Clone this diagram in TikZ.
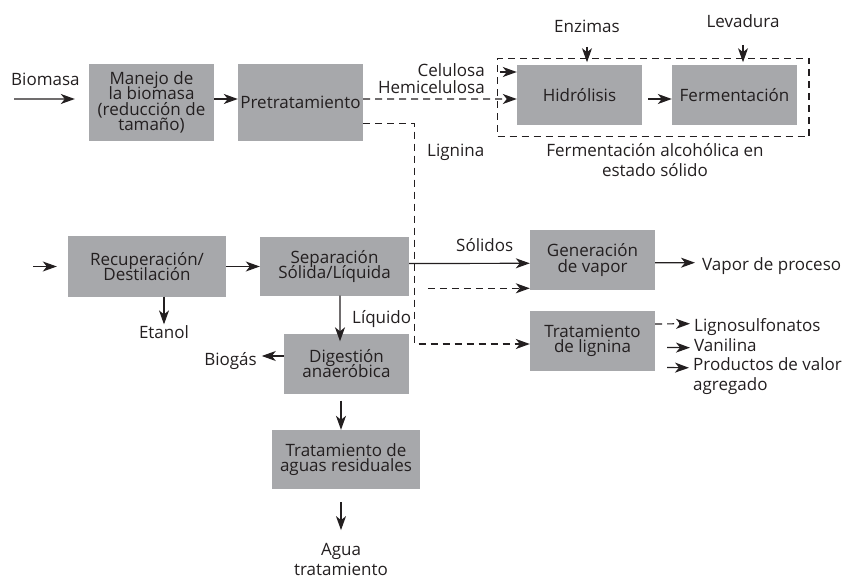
\documentclass[tikz,border=0pt]{standalone}
\usepackage{fontspec}
\setmainfont{Open Sans}
\usetikzlibrary{arrows.meta,positioning}
\definecolor{boxgray}{RGB}{167,168,171}
\definecolor{ink}{RGB}{35,31,32}
\newcommand{\procfont}{\fontsize{17bp}{15.3bp}\selectfont\lineskiplimit=-20bp}
\newcommand{\tagfont}{\fontsize{17bp}{20bp}\selectfont\lineskiplimit=-20bp}
\tikzset{
  >={Stealth[length=14bp,width=10bp,inset=4bp]},
  box/.style={fill=boxgray,text=ink,minimum width=#1,minimum height=60bp,
    inner sep=0pt,align=center,font=\procfont},
  box/.default=125bp,
  frame/.style={draw=ink,line width=1.2bp,dash pattern=on 7bp off 5bp,
    inner sep=0pt},
  flow/.style={->,line width=1.2bp,draw=ink},
  dflow/.style={flow,dash pattern=on 7bp off 5bp},
  tag/.style={text=ink,inner sep=1bp,font=\tagfont,align=center},
}
\begin{document}
\begin{tikzpicture}[x=1bp,y=-1bp]
  \useasboundingbox (0,0) rectangle (845,579);
  % upper line: pretreatment and solid state fermentation
  \node[box,minimum height=77bp] (manejo) at (151.5,102.5) {Manejo de\\la biomasa\\(reducción de\\tamaño)};
  \node[box,minimum height=77bp] (pretrat) at (300.5,102.5) {Pretratamiento};
  \node[box] (hidro) at (579.5,95) {Hidrólisis};
  \node[box] (ferm) at (734.5,95) {Fermentación};
  \node[frame,minimum width=311.5bp,minimum height=78.2bp] (ssf) at (653.25,97.4) {};
  \node[tag,anchor=base west] (biomasa) at (10,86) {Biomasa};
  \node[tag,anchor=base east] (celulosa) at (486,77) {Celulosa};
  \node[tag,anchor=base east] (hemi) at (486,94) {Hemicelulosa};
  \node[tag,anchor=base] (enzimas) at (587,33) {Enzimas};
  \node[tag,anchor=base] (levadura) at (743,28) {Levadura};
  \node[tag] (ssflab) at (655,160.5) {Fermentación alcohólica en\\estado sólido};
  \node[tag,anchor=base west] (lignina) at (426,156.7) {Lignina};
  \draw[flow] ([xshift=4bp,yshift=-13bp]biomasa.base west) -- ([xshift=-14bp,yshift=3.5bp]manejo.west);
  \draw[flow] ([yshift=3.5bp]manejo.east) -- ([yshift=3.5bp]pretrat.west);
  \draw[dflow] ([yshift=3.5bp]pretrat.east) -- ([yshift=-4bp]hidro.west);
  \draw[dflow] ([xshift=-17bp,yshift=23bp]hidro.west) -- ([yshift=23bp]hidro.west);
  \draw[flow] ([xshift=6bp,yshift=-4bp]hidro.east) -- ([yshift=-4bp]ferm.west);
  \draw[flow] ([yshift=-14bp]enzimas.base) -- ([yshift=-4.5bp]enzimas.base |- ssf.north);
  \draw[flow] ([yshift=-17bp]levadura.base) -- ([yshift=-4.5bp]levadura.base |- ssf.north);

  % lower line: recovery and residues
  \node[box,minimum width=158bp] (recup) at (147,266.5) {Recuperación/\\Destilación};
  \node[box,minimum width=149bp,minimum height=58bp] (sep) at (334.5,266.5) {Separación\\Sólida/Líquida};
  \node[box] (dig) at (346.5,363.5) {Digestión\\anaeróbica};
  \node[box,minimum width=148bp,minimum height=59bp] (aguas) at (346,459.5) {Tratamiento de\\aguas residuales};
  \node[box] (vapor) at (592.5,260) {Generación\\de vapor};
  \node[box] (tratlig) at (592.5,340.5) {Tratamiento\\de lignina};
  \coordinate (recin) at (33,266.5);
  \node[tag,anchor=base] (etanol) at (164,338.5) {Etanol};
  \node[tag,anchor=base west] (liquido) at (351,323.3) {Líquido};
  \node[tag,anchor=base east] (biogas) at (258,365) {Biogás};
  \node[tag] (agua) at (341,559.5) {Agua\\tratamiento};
  \node[tag,anchor=base west] (solidos) at (455,252) {Sólidos};
  \node[tag,anchor=base west] (vproc) at (701,270) {Vapor de proceso};
  \node[tag,anchor=base west] (lignosulf) at (693,331.7) {Lignosulfonatos};
  \node[tag,anchor=base west] (vanilina) at (693,351.7) {Vanilina};
  \node[tag,anchor=west,align=left] (productos) at (692,376.3) {Productos de valor\\agregado};
  \draw[flow] (recin) -- ([xshift=-11bp]recup.west);
  \draw[flow] (recup) -- (sep);
  \draw[flow] (recup.south -| etanol) -- (etanol.north);
  \draw[flow] ([xshift=5.5bp]sep.south) -- ([xshift=-6.5bp,yshift=-8bp]dig.north);
  \draw[flow] ([yshift=7.5bp]dig.west) -- ([xshift=-22bp,yshift=7.5bp]dig.west);
  \draw[flow] ([yshift=-7bp]dig.south -| agua) -- (aguas.north -| agua);
  \draw[flow] ([yshift=-13bp]aguas.south -| agua) -- ([yshift=12bp]agua.north);
  \draw[flow] ([yshift=3bp]sep.east) -- ([yshift=-3.3bp]vapor.west);
  \draw[dflow] ([yshift=-20.8bp]pretrat.east) -| ([xshift=-115bp,yshift=-3.5bp]tratlig.west) -- ([yshift=-3.5bp]tratlig.west);
  \draw[dflow] ([xshift=-102bp,yshift=-28.3bp]vapor.west) -- ([yshift=-28.3bp]vapor.west);
  \draw[flow] ([yshift=-2.7bp]vapor.east) -- ([xshift=-6bp,yshift=7.3bp]vproc.base west);
  \draw[dflow] ([yshift=16.5bp]tratlig.east) -- ([xshift=-3bp,yshift=8bp]lignosulf.base west);
  \draw[flow] ([xshift=12bp,yshift=-7bp]tratlig.east) -- ([xshift=-3bp,yshift=4bp]vanilina.base west);
  \draw[flow] ([xshift=12bp,yshift=-27bp]tratlig.east) -- ([xshift=-3bp,yshift=8.5bp]productos.west);
\end{tikzpicture}
\end{document}
